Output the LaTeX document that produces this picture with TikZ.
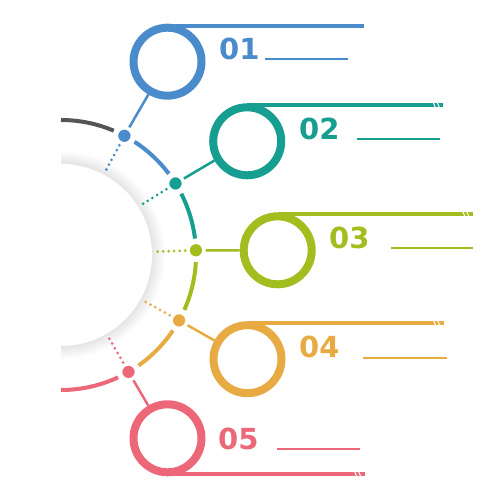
\documentclass[tikz,border=0pt]{standalone}
\usepackage{fontspec}
\newfontfamily\numfont{DejaVu Sans}
\definecolor{cgray}{HTML}{555555}
\definecolor{cblue}{HTML}{4A8BCB}
\definecolor{cteal}{HTML}{169E90}
\definecolor{cgreen}{HTML}{A2BE1E}
\definecolor{corange}{HTML}{E8AA42}
\definecolor{cpink}{HTML}{EC6878}
\begin{document}
\begin{tikzpicture}[x=1pt,y=1pt,
    arcline/.style={#1, line width=4pt},
    dot/.style={circle, fill=#1, draw=white, line width=1.5pt, minimum size=14pt, inner sep=0pt},
    ring/.style={circle, draw=#1, fill=white, line width=8pt, minimum size=68pt, inner sep=0pt},
    spokes/.style={#1, line width=3pt, line cap=round, dash pattern=on 0pt off 5.5pt, shorten <=3pt},
    link/.style={#1, line width=2.5pt, shorten <=2pt},
    bar/.style={#1, line width=4pt},
    cut/.style={white, line width=1pt},
    num/.style={#1, font=\numfont\bfseries\fontsize{29}{29}\selectfont, inner sep=0pt, anchor=base west},
    rule/.style={#1, line width=1.2pt}]
  \useasboundingbox (0,0) rectangle (500,500);
  \coordinate (O) at (61,245);
  % shadow and half disk
  \foreach \i in {0,...,13}
    \fill[black, opacity=0.009] ([shift={(O)}]-90:{91+\i}) arc[start angle=-90, end angle=90, radius={91+\i}] -- cycle;
  \fill[white] ([shift={(O)}]-90:91) arc[start angle=-90, end angle=90, radius=91] -- cycle;
  % arcs
  \draw[arcline=cgray] ([shift={(O)}]90:135) arc[start angle=90, end angle=67, radius=135];
  \foreach \c/\s/\e in {cblue/57/37, cteal/27/7, cgreen/-3/-24, corange/-34/-55, cpink/-65/-90}
    \draw[arcline=\c] ([shift={(O)}]\s:135) arc[start angle=\s, end angle=\e, radius=135];
  % dots
  \node[dot=cblue] (b1) at ([shift={(O)}]62:135) {};
  \node[dot=cteal] (b2) at ([shift={(O)}]32:135) {};
  \node[dot=cgreen] (b3) at ([shift={(O)}]2:135) {};
  \node[dot=corange] (b4) at ([shift={(O)}]-29:135) {};
  \node[dot=cpink] (b5) at ([shift={(O)}]-60:135) {};
  \coordinate (s1) at ([shift={(O)}]62:92);
  \coordinate (s2) at ([shift={(O)}]32:92);
  \coordinate (s3) at ([shift={(O)}]2:92);
  \coordinate (s4) at ([shift={(O)}]-29:92);
  \coordinate (s5) at ([shift={(O)}]-60:92);
  \draw[spokes=cblue] (b1) -- (s1);
  \draw[spokes=cteal] (b2) -- (s2);
  \draw[spokes=cgreen] (b3) -- (s3);
  \draw[spokes=corange] (b4) -- (s4);
  \draw[spokes=cpink] (b5) -- (s5);
  % rings
  \node[ring=cblue] (c1) at (167.5,438.3) {};
  \node[ring=cteal] (c2) at (247.2,358.7) {};
  \node[ring=cgreen] (c3) at (277.7,249.7) {};
  \node[ring=corange] (c4) at (247.5,140.8) {};
  \node[ring=cpink] (c5) at (167.5,61.7) {};
  \draw[link=cblue] (b1) -- (c1);
  \draw[link=cteal] (b2) -- (c2);
  \draw[link=cgreen] (b3) -- (c3);
  \draw[link=corange] (b4) -- (c4);
  \draw[link=cpink] (b5) -- (c5);
  \draw[bar=cblue] ([yshift=-2pt]c1.north) -- ++(196,0) coordinate (e1);
  \draw[bar=cteal] ([yshift=-2pt]c2.north) -- ++(196,0) coordinate (e2);
  \draw[bar=cgreen] ([yshift=-2pt]c3.north) -- ++(195,0) coordinate (e3);
  \draw[bar=corange] ([yshift=-2pt]c4.north) -- ++(196,0) coordinate (e4);
  \draw[bar=cpink] ([yshift=2pt]c5.south) -- ++(197,0) coordinate (e5);
  \foreach \e in {e2,e3,e4,e5} {
    \draw[cut] ([xshift=-10pt,yshift=3pt]\e) -- ++(2.5,-6);
    \draw[cut] ([xshift=-6pt,yshift=3pt]\e) -- ++(2.5,-6);
  }
  % labels
  \node[num=cblue] (t1) at (219,440) {01};
  \node[num=cteal] (t2) at (299,360) {02};
  \node[num=cgreen] (t3) at (329,251) {03};
  \node[num=corange] (t4) at (299,142) {04};
  \node[num=cpink] (t5) at (218,50) {05};
  \draw[rule=cblue] (265,441) -- (348,441);
  \draw[rule=cteal] (357,361) -- (440,361);
  \draw[rule=cgreen] (391,252) -- (473,252);
  \draw[rule=corange] (363,142) -- (447,142);
  \draw[rule=cpink] (277,51) -- (360,51);
\end{tikzpicture}
\end{document}
